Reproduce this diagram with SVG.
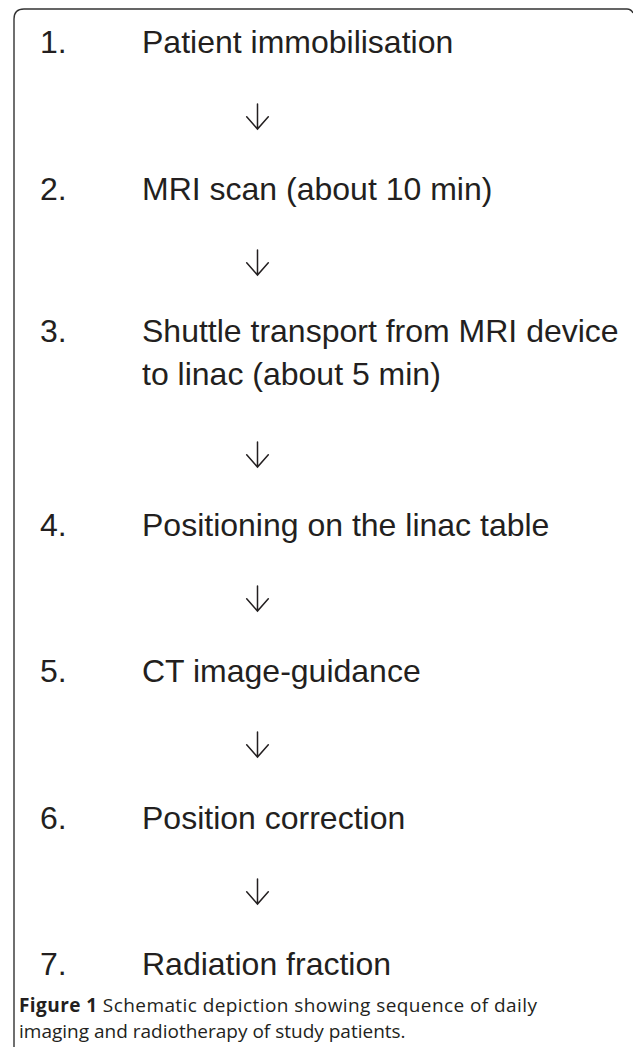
<svg xmlns="http://www.w3.org/2000/svg" width="633" height="1050" viewBox="0 0 633 1050">
<style>
.t{font-family:"Liberation Sans",Arial,sans-serif;font-size:32px;fill:#231f20}
.cap{font-family:"Open Sans","Noto Sans",sans-serif;font-size:19px;fill:#231f20}
.b{font-weight:bold}
.arr{fill:none;stroke:#231f20;stroke-width:1.5;stroke-linecap:round;stroke-linejoin:miter}
.frame{fill:none;stroke:#333;stroke-width:1.4}
</style>
<rect width="633" height="1050" fill="#fff"/>
<path class="frame" d="M14,1047 V19 Q14,9 24,9 H627 Q631,9 633,13"/>
<g id="step1"><text class="t" x="40" y="53">1.</text><text class="t" x="142" y="53">Patient immobilisation</text></g>
<g id="step2"><text class="t" x="40" y="200">2.</text><text class="t" x="142" y="200">MRI scan (about 10 min)</text></g>
<g id="step3"><text class="t" x="40" y="342">3.</text><text class="t" x="142" y="342">Shuttle transport from MRI device</text><text class="t" x="142" y="385">to linac (about 5 min)</text></g>
<g id="step4"><text class="t" x="40" y="536">4.</text><text class="t" x="142" y="536">Positioning on the linac table</text></g>
<g id="step5"><text class="t" x="40" y="682">5.</text><text class="t" x="142" y="682">CT image-guidance</text></g>
<g id="step6"><text class="t" x="40" y="829">6.</text><text class="t" x="142" y="829">Position correction</text></g>
<g id="step7"><text class="t" x="40" y="975">7.</text><text class="t" x="142" y="975">Radiation fraction</text></g>
<g id="connectors">
<path class="arr" d="M257.5,104 V129 M246.7,116.7 L257.5,129 L268.3,116.7"/>
<path class="arr" d="M257.5,250 V275 M246.7,262.7 L257.5,275 L268.3,262.7"/>
<path class="arr" d="M257.5,442 V467 M246.7,454.7 L257.5,467 L268.3,454.7"/>
<path class="arr" d="M257.5,586 V611 M246.7,598.7 L257.5,611 L268.3,598.7"/>
<path class="arr" d="M257.5,732 V757 M246.7,744.7 L257.5,757 L268.3,744.7"/>
<path class="arr" d="M257.5,879 V904 M246.7,891.7 L257.5,904 L268.3,891.7"/>
</g>
<g id="caption">
<text class="cap" x="19" y="1012" textLength="518" lengthAdjust="spacing"><tspan class="b">Figure 1</tspan> Schematic depiction showing sequence of daily</text>
<text class="cap" x="19" y="1038">imaging and radiotherapy of study patients.</text>
</g>
</svg>
